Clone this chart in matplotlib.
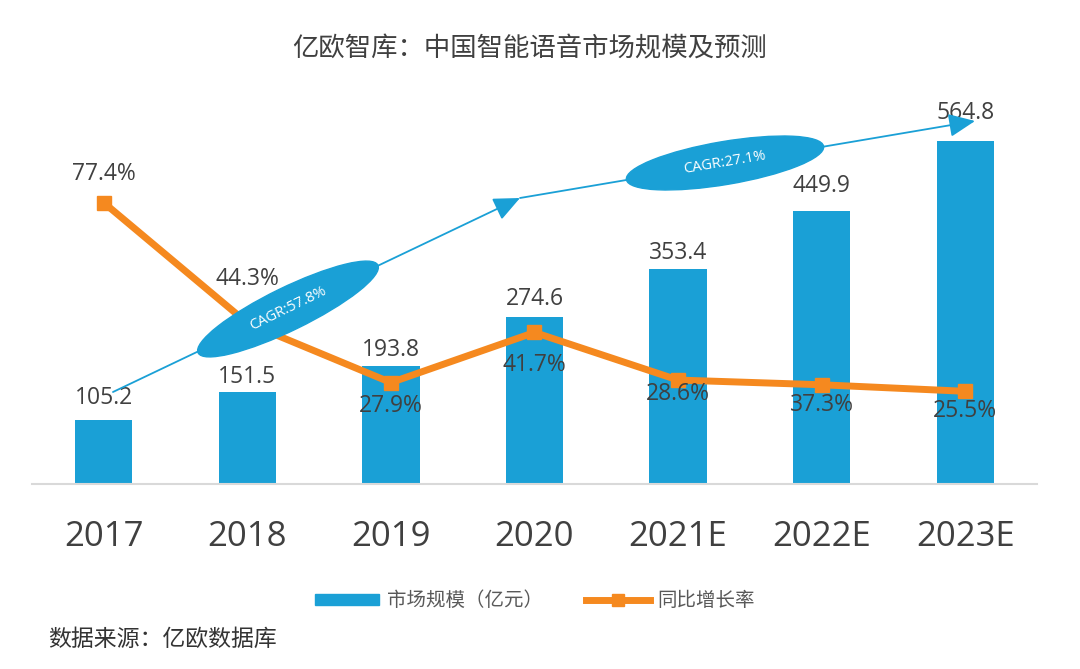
import matplotlib
matplotlib.use('Agg')
import matplotlib.pyplot as plt
from matplotlib.patches import Ellipse, Patch
from matplotlib.lines import Line2D

plt.rcParams['font.family'] = ['Open Sans', 'Noto Sans CJK SC', 'DejaVu Sans']

years = ['2017', '2018', '2019', '2020', '2021E', '2022E', '2023E']
market = [105.2, 151.5, 193.8, 274.6, 353.4, 449.9, 564.8]
growth = [77.4, 44.3, 27.9, 41.7, 28.6, 27.3, 25.5]   # where the line is drawn
growth_labels = ['77.4%', '44.3%', '27.9%', '41.7%', '28.6%', '37.3%', '25.5%']
cagr_labels = ['CAGR:57.8%', 'CAGR:27.1%']

blue = '#1aa0d6'
orange = '#f5891f'
grey = '#404040'

# label offsets in pixels (centre of text relative to bar top / point)
bar_dy = [22, 15, 16, 18, 16, 25, 28]
pct_dy = [29, 44, -23, -33, -14, -20, -20]

fig = plt.figure(figsize=(10.8, 6.69), dpi=100)
ax = fig.add_axes([0.0296, 1 - 484 / 669, 0.9306, 394 / 669])
x = range(len(years))

ax.bar(x, market, width=0.4, color=blue, zorder=2)
ax.set_xlim(-0.5, len(years) - 0.5)
ax.set_ylim(0, 648.8)
ax.set_xticks(list(x))
ax.set_xticklabels(years, fontsize=25, color=grey)
ax.tick_params(axis='x', length=0, pad=26)
ax.set_yticks([])
for s in ['top', 'right', 'left']:
    ax.spines[s].set_visible(False)
ax.spines['bottom'].set_color('#d9d9d9')
ax.spines['bottom'].set_linewidth(1.5)

for i, v in enumerate(market):
    ax.annotate(f'{v:.1f}', (i, v), xytext=(0, bar_dy[i]), textcoords='offset pixels',
                ha='center', va='center', fontsize=16.5, color=grey, zorder=5)

ax2 = ax.twinx()
ax2.set_ylim(0, 108.4)
ax2.set_yticks([])
for s in ax2.spines.values():
    s.set_visible(False)
ax2.plot(x, growth, color=orange, lw=5, marker='s', markersize=10, zorder=3)
for i, v in enumerate(growth):
    ax2.annotate(growth_labels[i], (i, v), xytext=(0, pct_dy[i]), textcoords='offset pixels',
                 ha='center', va='center', fontsize=16.5, color=grey, zorder=5)

# CAGR arrows
arrow = dict(arrowstyle='-|>,head_length=0.9,head_width=0.4', color=blue, lw=1.3,
             mutation_scale=18, shrinkA=0, shrinkB=0)
ax2.annotate('', xy=(0.4856, 0.7259), xytext=(0.0806, 0.2335), xycoords='axes fraction',
             arrowprops=arrow)
ax2.annotate('', xy=(0.9383, 0.9213), xytext=(0.4856, 0.7259), xycoords='axes fraction',
             arrowprops=arrow)

# CAGR ellipses (inches)
for (cx, cy), ang, txt in zip([(2.88, 3.60), (7.25, 5.06)], [26, 9.6], cagr_labels):
    fig.add_artist(Ellipse((cx, cy), 2.0, 0.43, angle=ang, color=blue,
                           transform=fig.dpi_scale_trans, zorder=10))
    fig.text(cx, cy, txt, transform=fig.dpi_scale_trans, rotation=ang,
             rotation_mode='anchor', ha='center', va='center', fontsize=10.5,
             color='white', zorder=11)

fig.text(0.49, 1 - 50 / 669, '亿欧智库：中国智能语音市场规模及预测', ha='center', va='center',
         fontsize=19, color=grey)
fig.text(48 / 1080, 1 - 640 / 669, '数据来源：亿欧数据库', ha='left', va='center',
         fontsize=16.5, color='#333333')

handles = [Patch(color=blue), Line2D([], [], color=orange, lw=5, marker='s', markersize=9)]
fig.legend(handles, ['市场规模（亿元）', '同比增长率'], loc='center', bbox_to_anchor=(535 / 1080, 1 - 601 / 669),
           ncol=2, frameon=False, fontsize=14, labelcolor='#595959', handlelength=3.3,
           handleheight=0.5, handletextpad=0.4, columnspacing=2.2)

fig.savefig('out.png', dpi=100)
